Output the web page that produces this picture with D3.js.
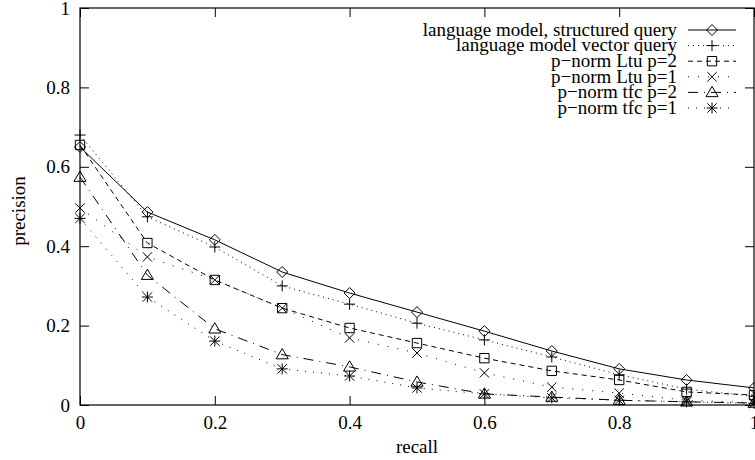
<!DOCTYPE html>
<html><head><meta charset="utf-8">
<script src="https://cdn.jsdelivr.net/npm/d3@7"></script>
<style>body{margin:0;background:#fff}svg{display:block}svg text{font-family:"Liberation Serif","Times New Roman",Times,"DejaVu Serif",serif !important;fill:#000}</style>
</head><body>
<svg id="c" width="755" height="460"></svg>
<script>
const recall = [0, 0.1, 0.2, 0.3, 0.4, 0.5, 0.6, 0.7, 0.8, 0.9, 1.0];
const seriesNames = ["language model, structured query","language model vector query","p\u2212norm Ltu p=2","p\u2212norm Ltu p=1","p\u2212norm tfc p=2","p\u2212norm tfc p=1"];
const lmStructured = [0.65, 0.486, 0.416, 0.335, 0.282, 0.234, 0.186, 0.136, 0.091, 0.063, 0.043];
const lmVector     = [0.68, 0.474, 0.398, 0.300, 0.254, 0.206, 0.164, 0.121, 0.076, 0.040, 0.022];
const ltuP2        = [0.655, 0.408, 0.315, 0.244, 0.194, 0.156, 0.118, 0.086, 0.063, 0.033, 0.025];
const ltuP1        = [0.496, 0.373, 0.315, 0.244, 0.169, 0.131, 0.081, 0.045, 0.030, 0.012, 0.006];
const tfcP2        = [0.574, 0.327, 0.192, 0.127, 0.096, 0.058, 0.028, 0.020, 0.012, 0.008, 0.005];
const tfcP1        = [0.470, 0.272, 0.161, 0.091, 0.073, 0.043, 0.028, 0.018, 0.012, 0.008, 0.004];
const xTicks = [0, 0.2, 0.4, 0.6, 0.8, 1];
const yTicks = [0, 0.2, 0.4, 0.6, 0.8, 1];
const allSeries = [lmStructured, lmVector, ltuP2, ltuP1, tfcP2, tfcP1];
const markers = ["diamond","plus","square","cross","triangle","star"];
const dashes = [null, "1,4", "5,4", "1,9", "10,6,1,6", "1,7"];

const svg = d3.select("#c");
const L = 80, R = 754, T = 8, B = 405;
const x = d3.scaleLinear().domain([0,1]).range([L,R]);
const y = d3.scaleLinear().domain([0,1]).range([B,T]);
const fs = 19;
const FF = '"Liberation Serif","Times New Roman",Times,serif';

function markerPath(type, s) {
  const p = d3.path();
  if (type === "diamond") { p.moveTo(0,-s); p.lineTo(s,0); p.lineTo(0,s); p.lineTo(-s,0); p.closePath(); }
  else if (type === "plus") { p.moveTo(-s,0); p.lineTo(s,0); p.moveTo(0,-s); p.lineTo(0,s); }
  else if (type === "square") { const h = s*0.85; p.rect(-h,-h,2*h,2*h); }
  else if (type === "cross") { const h = s*0.85; p.moveTo(-h,-h); p.lineTo(h,h); p.moveTo(-h,h); p.lineTo(h,-h); }
  else if (type === "triangle") { const h = s*1.1; p.moveTo(0,-h); p.lineTo(h,h*0.7); p.lineTo(-h,h*0.7); p.closePath(); }
  else if (type === "star") { const h = s*0.85; p.moveTo(-h,-h); p.lineTo(h,h); p.moveTo(-h,h); p.lineTo(h,-h); p.moveTo(-s,0); p.lineTo(s,0); p.moveTo(0,-s); p.lineTo(0,s); }
  return p.toString();
}

const gx = svg.append("g").attr("transform",`translate(0,${B})`)
  .call(d3.axisBottom(x).tickValues(xTicks).tickSize(-9).tickPadding(11).tickFormat(d3.format("~g")));
const gxt = svg.append("g").attr("transform",`translate(0,${T})`)
  .call(d3.axisTop(x).tickValues(xTicks).tickSize(-9).tickFormat(""));
const gy = svg.append("g").attr("transform",`translate(${L},0)`)
  .call(d3.axisLeft(y).tickValues(yTicks).tickSize(-9).tickPadding(10).tickFormat(d3.format("~g")));
const gyr = svg.append("g").attr("transform",`translate(${R},0)`)
  .call(d3.axisRight(y).tickValues(yTicks).tickSize(-9).tickFormat(""));
[gx,gxt,gy,gyr].forEach(g => {
  g.attr("font-family", FF).attr("font-size", fs);
  g.selectAll(".domain").remove();
  g.selectAll("line").attr("stroke","#000").attr("stroke-width",1);
  g.selectAll("text").style("font-family",FF).style("font-size",fs+"px");
});
svg.append("rect").attr("x",L).attr("y",T).attr("width",R-L).attr("height",B-T)
  .attr("fill","none").attr("stroke","#000").attr("stroke-width",1.2);

svg.append("text").attr("x",417).attr("y",453).attr("text-anchor","middle").style("font-family",FF).style("font-size",fs+"px").text("recall");
svg.append("text").attr("transform","translate(25,211) rotate(-90)").attr("text-anchor","middle").style("font-family",FF).style("font-size",fs+"px").text("precision");

const line = d3.line().x((d,i)=>x(recall[i])).y(d=>y(d));
allSeries.forEach((vals, k) => {
  svg.append("path").attr("d", line(vals)).attr("fill","none").attr("stroke","#000")
    .attr("stroke-width",1).attr("stroke-dasharray", dashes[k]);
  svg.append("g").selectAll("path").data(vals).join("path")
    .attr("transform",(d,i)=>`translate(${x(recall[i])},${y(d)})`)
    .attr("d", markerPath(markers[k], 5.5)).attr("fill","none").attr("stroke","#000").attr("stroke-width",1);
});

seriesNames.forEach((name, k) => {
  const cy = 30 + k*15.6;
  svg.append("text").attr("x",677).attr("y",cy).attr("dy","0.3em").attr("text-anchor","end").style("font-family",FF).style("font-size",fs+"px").text(name);
  svg.append("line").attr("x1",688).attr("x2",736).attr("y1",cy).attr("y2",cy)
    .attr("stroke","#000").attr("stroke-width",1).attr("stroke-dasharray",dashes[k]);
  svg.append("path").attr("transform",`translate(712,${cy})`).attr("d",markerPath(markers[k],5.5))
    .attr("fill","none").attr("stroke","#000").attr("stroke-width",1);
});
</script>
</body></html>
